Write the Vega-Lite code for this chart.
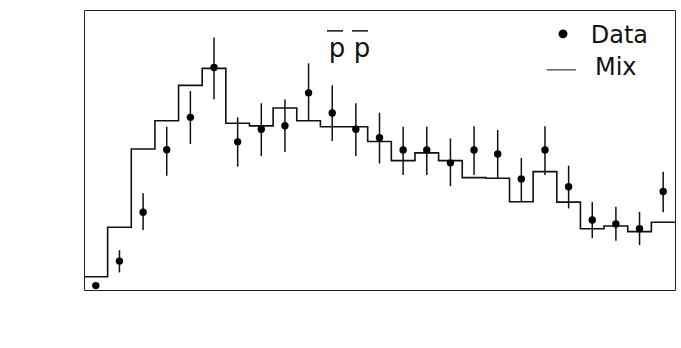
{
  "$schema": "https://vega.github.io/schema/vega-lite/v6.json",
  "width": 591,
  "height": 280,
  "autosize": {"type": "none"},
  "padding": {"left": 84, "top": 10, "right": 6, "bottom": 58},
  "background": "white",
  "config": {
    "view": {"stroke": "#222", "strokeWidth": 1},
    "axis": {"grid": false}
  },
  "datasets": {
    "mix": [
      {"q": 0, "mix": 0.0042}, {"q": 0.32, "mix": 0.020}, {"q": 0.64, "mix": 0.0449},
      {"q": 0.96, "mix": 0.0539}, {"q": 1.28, "mix": 0.0652}, {"q": 1.6, "mix": 0.0706},
      {"q": 1.92, "mix": 0.0531}, {"q": 2.24, "mix": 0.0523}, {"q": 2.56, "mix": 0.058},
      {"q": 2.88, "mix": 0.0539}, {"q": 3.2, "mix": 0.052}, {"q": 3.52, "mix": 0.052},
      {"q": 3.84, "mix": 0.0473}, {"q": 4.16, "mix": 0.0412}, {"q": 4.48, "mix": 0.0437},
      {"q": 4.8, "mix": 0.0412}, {"q": 5.12, "mix": 0.0358}, {"q": 5.44, "mix": 0.0356},
      {"q": 5.76, "mix": 0.0281}, {"q": 6.08, "mix": 0.0377}, {"q": 6.4, "mix": 0.028},
      {"q": 6.72, "mix": 0.0195}, {"q": 7.04, "mix": 0.0204}, {"q": 7.36, "mix": 0.0186},
      {"q": 7.68, "mix": 0.0216}, {"q": 8.0, "mix": 0.0216}
    ],
    "pts": [
      {"q": 0.16, "y": 0.0014, "lo": 0.0008, "hi": 0.0020},
      {"q": 0.48, "y": 0.0092, "lo": 0.0056, "hi": 0.0127},
      {"q": 0.80, "y": 0.0248, "lo": 0.0191, "hi": 0.0308},
      {"q": 1.12, "y": 0.0447, "lo": 0.0364, "hi": 0.0520},
      {"q": 1.44, "y": 0.0550, "lo": 0.0465, "hi": 0.0634},
      {"q": 1.76, "y": 0.0709, "lo": 0.0608, "hi": 0.0804},
      {"q": 2.08, "y": 0.0472, "lo": 0.0393, "hi": 0.0550},
      {"q": 2.40, "y": 0.0512, "lo": 0.0427, "hi": 0.0595},
      {"q": 2.72, "y": 0.0523, "lo": 0.0440, "hi": 0.0607},
      {"q": 3.04, "y": 0.0628, "lo": 0.0541, "hi": 0.0722},
      {"q": 3.36, "y": 0.0564, "lo": 0.0475, "hi": 0.0652},
      {"q": 3.68, "y": 0.0512, "lo": 0.0427, "hi": 0.0595},
      {"q": 4.00, "y": 0.0485, "lo": 0.0403, "hi": 0.0565},
      {"q": 4.32, "y": 0.0446, "lo": 0.0366, "hi": 0.0520},
      {"q": 4.64, "y": 0.0446, "lo": 0.0366, "hi": 0.0520},
      {"q": 4.96, "y": 0.0405, "lo": 0.0331, "hi": 0.0483},
      {"q": 5.28, "y": 0.0446, "lo": 0.0366, "hi": 0.0522},
      {"q": 5.60, "y": 0.0433, "lo": 0.0356, "hi": 0.0510},
      {"q": 5.92, "y": 0.0354, "lo": 0.0281, "hi": 0.0421},
      {"q": 6.24, "y": 0.0446, "lo": 0.0366, "hi": 0.0522},
      {"q": 6.56, "y": 0.0329, "lo": 0.0260, "hi": 0.0396},
      {"q": 6.88, "y": 0.0223, "lo": 0.0165, "hi": 0.0280},
      {"q": 7.20, "y": 0.0210, "lo": 0.0157, "hi": 0.0265},
      {"q": 7.52, "y": 0.0195, "lo": 0.0143, "hi": 0.0249},
      {"q": 7.84, "y": 0.0314, "lo": 0.0248, "hi": 0.0377}
    ],
    "one": [{"k": 1}]
  },
  "layer": [
    {
      "data": {"name": "mix"},
      "mark": {"type": "line", "interpolate": "step-after", "color": "#111", "strokeWidth": 1.6},
      "encoding": {
        "x": {"field": "q", "type": "quantitative", "scale": {"domain": [0, 8], "nice": false, "zero": false},
          "axis": {"values": [0,1,2,3,4,5,6,7,8], "format": "d", "ticks": true, "tickSize": -12, "tickWidth": 2, "tickColor": "black",
            "domainColor": "black", "domainWidth": 2.5,
            "labelFont": "Liberation Serif", "labelFontWeight": "bold", "labelFontSize": 17, "labelColor": "#111",
            "labelPadding": 21, "labelFlush": false,
            "title": "Q [ GeV ]", "titleFont": "Liberation Serif", "titleFontWeight": "bold", "titleFontSize": 20, "titleColor": "#111",
            "titleAnchor": "end", "titleAlign": "right", "titleBaseline": "alphabetic", "titleX": 594, "titleY": 52}},
        "y": {"field": "mix", "type": "quantitative", "scale": {"domain": [0, 0.0892], "nice": false, "zero": false},
          "axis": {"values": [0,0.01,0.02,0.03,0.04,0.05,0.06,0.07,0.08], "format": ".2~f", "ticks": true, "tickSize": -12, "tickWidth": 2, "tickColor": "black",
            "domainColor": "black", "domainWidth": 2.5,
            "labelFont": "Liberation Serif", "labelFontWeight": "bold", "labelFontSize": 17, "labelColor": "#111",
            "labelPadding": 28, "labelFlush": false, "title": null}}
      }
    },
    {
      "data": {"name": "pts"},
      "mark": {"type": "rule", "color": "#111", "strokeWidth": 1.5},
      "encoding": {
        "x": {"field": "q", "type": "quantitative",
          "axis": {"values": [0,1,2,3,4,5,6,7,8], "format": "d", "ticks": true, "tickSize": -12, "tickWidth": 2, "tickColor": "black",
            "domainColor": "black", "domainWidth": 2.5,
            "labelFont": "Liberation Serif", "labelFontWeight": "bold", "labelFontSize": 17, "labelColor": "#111",
            "labelPadding": 21, "labelFlush": false,
            "title": "Q [ GeV ]", "titleFont": "Liberation Serif", "titleFontWeight": "bold", "titleFontSize": 20, "titleColor": "#111",
            "titleAnchor": "end", "titleAlign": "right", "titleBaseline": "alphabetic", "titleX": 594, "titleY": 52}},
        "y": {"field": "lo", "type": "quantitative",
          "axis": {"values": [0,0.01,0.02,0.03,0.04,0.05,0.06,0.07,0.08], "format": ".2~f", "ticks": true, "tickSize": -12, "tickWidth": 2, "tickColor": "black",
            "domainColor": "black", "domainWidth": 2.5,
            "labelFont": "Liberation Serif", "labelFontWeight": "bold", "labelFontSize": 17, "labelColor": "#111",
            "labelPadding": 28, "labelFlush": false, "title": null}},
        "y2": {"field": "hi"}
      }
    },
    {
      "data": {"name": "pts"},
      "mark": {"type": "point", "filled": true, "shape": "circle", "color": "#000", "size": 55, "opacity": 1},
      "encoding": {
        "x": {"field": "q", "type": "quantitative",
          "axis": {"values": [0,1,2,3,4,5,6,7,8], "format": "d", "ticks": true, "tickSize": -12, "tickWidth": 2, "tickColor": "black",
            "domainColor": "black", "domainWidth": 2.5,
            "labelFont": "Liberation Serif", "labelFontWeight": "bold", "labelFontSize": 17, "labelColor": "#111",
            "labelPadding": 21, "labelFlush": false,
            "title": "Q [ GeV ]", "titleFont": "Liberation Serif", "titleFontWeight": "bold", "titleFontSize": 20, "titleColor": "#111",
            "titleAnchor": "end", "titleAlign": "right", "titleBaseline": "alphabetic", "titleX": 594, "titleY": 52}},
        "y": {"field": "y", "type": "quantitative",
          "axis": {"values": [0,0.01,0.02,0.03,0.04,0.05,0.06,0.07,0.08], "format": ".2~f", "ticks": true, "tickSize": -12, "tickWidth": 2, "tickColor": "black",
            "domainColor": "black", "domainWidth": 2.5,
            "labelFont": "Liberation Serif", "labelFontWeight": "bold", "labelFontSize": 17, "labelColor": "#111",
            "labelPadding": 28, "labelFlush": false, "title": null}}
      }
    },
    {
      "data": {"name": "one"},
      "mark": {"type": "point", "filled": true, "shape": "circle", "color": "#000", "size": 80, "opacity": 1},
      "encoding": {"x": {"datum": 6.484, "type": "quantitative", "axis": null}, "y": {"datum": 0.0816, "type": "quantitative", "axis": null}}
    },
    {
      "data": {"name": "one"},
      "mark": {"type": "text", "text": "Data", "font": "DejaVu Sans", "fontSize": 24, "align": "left", "baseline": "alphabetic", "color": "#111"},
      "encoding": {"x": {"datum": 6.859, "type": "quantitative", "axis": null}, "y": {"datum": 0.07863, "type": "quantitative", "axis": null}}
    },
    {
      "data": {"name": "one"},
      "mark": {"type": "text", "text": "Mix", "font": "DejaVu Sans", "fontSize": 24, "align": "left", "baseline": "alphabetic", "color": "#111"},
      "encoding": {"x": {"datum": 6.917, "type": "quantitative", "axis": null}, "y": {"datum": 0.06853, "type": "quantitative", "axis": null}}
    },
    {
      "data": {"name": "one"},
      "mark": {"type": "rule", "color": "#111", "strokeWidth": 1},
      "encoding": {"x": {"datum": 6.263, "type": "quantitative", "axis": null}, "x2": {"datum": 6.66}, "y": {"datum": 0.07012, "type": "quantitative", "axis": null}}
    },
    {
      "data": {"name": "one"},
      "mark": {"type": "text", "text": "p p", "font": "DejaVu Sans", "fontSize": 26, "align": "center", "baseline": "alphabetic", "color": "#111"},
      "encoding": {"x": {"datum": 3.594, "type": "quantitative", "axis": null}, "y": {"datum": 0.0743, "type": "quantitative", "axis": null}}
    },
    {
      "data": {"name": "one"},
      "mark": {"type": "rule", "color": "#111", "strokeWidth": 1.5},
      "encoding": {"x": {"datum": 3.289, "type": "quantitative", "axis": null}, "x2": {"datum": 3.506}, "y": {"datum": 0.08255, "type": "quantitative", "axis": null}}
    },
    {
      "data": {"name": "one"},
      "mark": {"type": "rule", "color": "#111", "strokeWidth": 1.5},
      "encoding": {"x": {"datum": 3.628, "type": "quantitative", "axis": null}, "x2": {"datum": 3.844}, "y": {"datum": 0.08255, "type": "quantitative", "axis": null}}
    }
  ]
}
